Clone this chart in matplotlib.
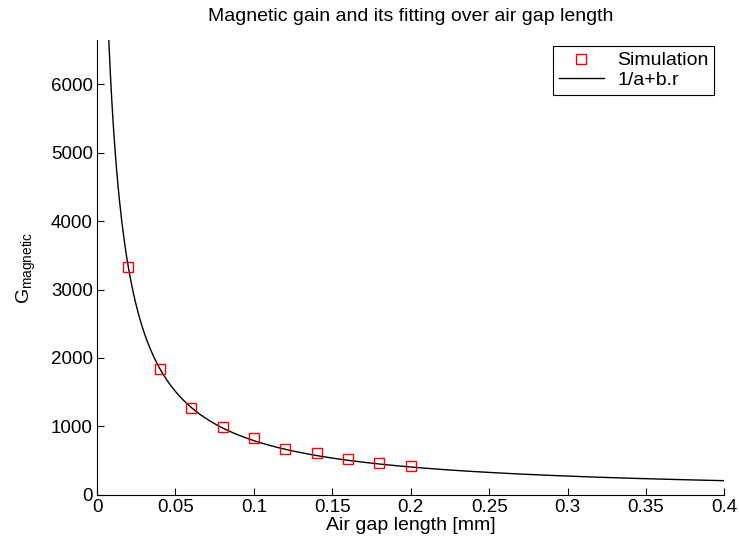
import numpy as np
import matplotlib
matplotlib.use("Agg")
import matplotlib.pyplot as plt

# simulated magnetic gain vs air gap length
gap_mm = [0.02, 0.04, 0.06, 0.08, 0.10, 0.12, 0.14, 0.16, 0.18, 0.20]
gain_sim = [3325, 1835, 1265, 985, 830, 675, 605, 520, 460, 420]

# fitted model G = 1/(a + b*r), parameters
fit_a = 6.0e-5
fit_b = 0.01205
fit_range = [0.0075, 0.4]

x_ticks = [0, 0.05, 0.1, 0.15, 0.2, 0.25, 0.3, 0.35, 0.4]
x_ticklabels = ["0", "0.05", "0.1", "0.15", "0.2", "0.25", "0.3", "0.35", "0.4"]
y_ticks = [0, 1000, 2000, 3000, 4000, 5000, 6000]

plt.rcParams["font.family"] = ["Liberation Sans", "DejaVu Sans"]
plt.rcParams["mathtext.fontset"] = "custom"
plt.rcParams["mathtext.rm"] = "Liberation Sans"
plt.rcParams["mathtext.it"] = "Liberation Sans"
plt.rcParams["mathtext.default"] = "regular"

FONTSIZE = 14

r_fit = np.linspace(fit_range[0], fit_range[1], 800)
g_fit = 1.0 / (fit_a + fit_b * r_fit)

fig = plt.figure(figsize=(7.39, 5.40), dpi=100)
ax = fig.add_axes([0.1313, 0.0839, 0.849, 0.8421])

ax.plot(gap_mm, gain_sim, linestyle="none", marker="s", markersize=6.5,
        markerfacecolor="none", markeredgecolor="red", markeredgewidth=1.0,
        label="Simulation", zorder=3)
ax.plot(r_fit, g_fit, color="black", linewidth=1.0, label="1/a+b.r")

ax.set_xlim(0, 0.4)
ax.set_ylim(0, 6650)
ax.set_xticks(x_ticks)
ax.set_xticklabels(x_ticklabels)
ax.set_yticks(y_ticks)
ax.tick_params(direction="in", length=5, labelsize=13.5, width=0.8, pad=3)
ax.spines["top"].set_visible(False)
ax.spines["right"].set_visible(False)

ax.set_xlabel("Air gap length [mm]", fontsize=FONTSIZE, labelpad=1)
ax.set_ylabel(r"$G_{magnetic}$", fontsize=FONTSIZE, labelpad=9)
ax.set_title("Magnetic gain and its fitting over air gap length", fontsize=FONTSIZE, pad=14)

leg = ax.legend(loc="upper right", bbox_to_anchor=(0.984, 0.987), borderaxespad=0,
                fontsize=FONTSIZE, fancybox=False, framealpha=1, edgecolor="black",
                handlelength=2.3, handletextpad=0.7, borderpad=0.3, labelspacing=0.1)
leg.get_frame().set_linewidth(0.8)

fig.savefig("out.png", dpi=100)
